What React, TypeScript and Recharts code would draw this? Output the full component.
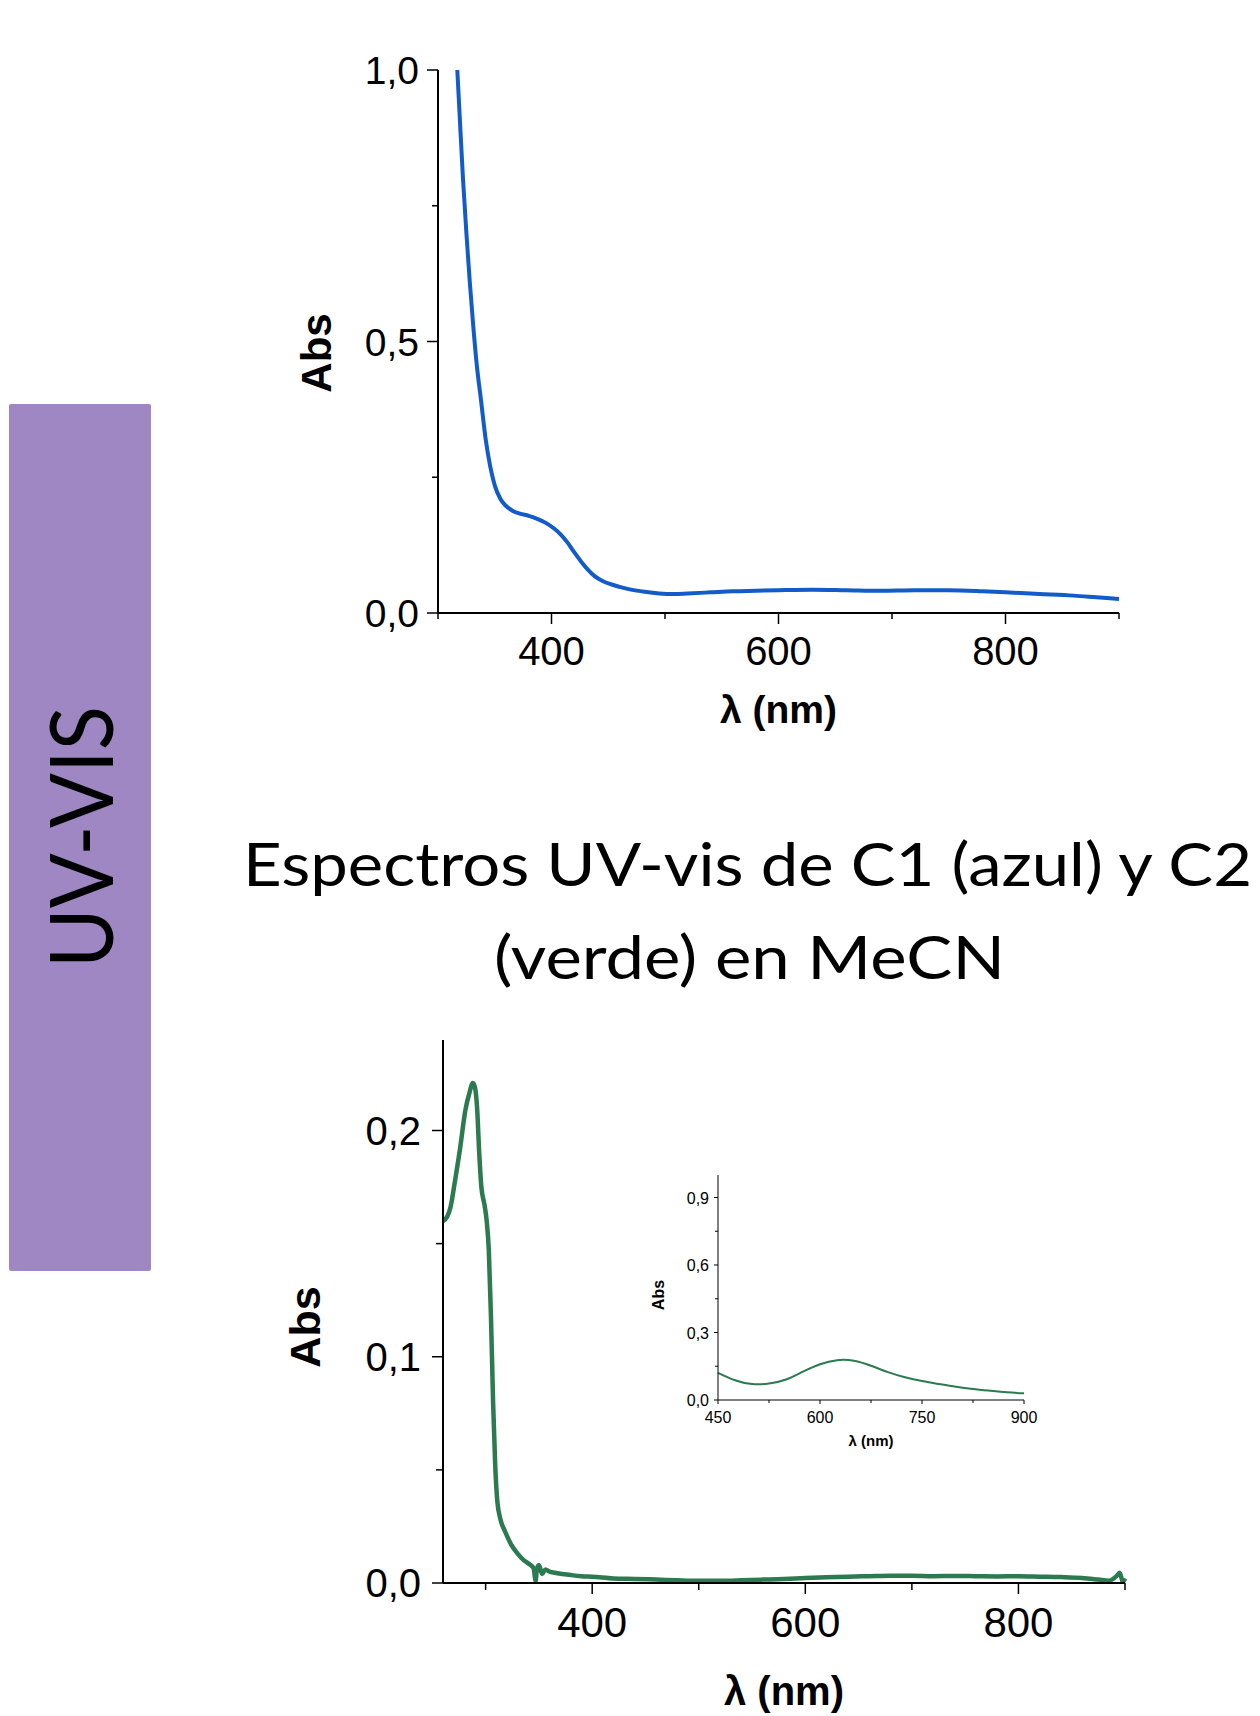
import React from 'react';
import { LineChart, Line, XAxis, YAxis } from 'recharts';

// C1 (azul) en MeCN
const c1Lambda = [317, 319, 322, 325, 328, 331, 334, 338, 342, 346, 350, 355, 360, 366, 372, 380, 388, 395, 402, 408, 414, 420, 426, 432, 438, 445, 452, 460, 470, 482, 495, 508, 520, 540, 560, 580, 600, 630, 660, 690, 720, 750, 780, 800, 830, 860, 880, 900];
const c1Abs = [1.0, 0.92, 0.8, 0.7, 0.61, 0.53, 0.46, 0.39, 0.32, 0.27, 0.235, 0.21, 0.197, 0.188, 0.183, 0.179, 0.173, 0.166, 0.156, 0.145, 0.13, 0.112, 0.095, 0.08, 0.068, 0.059, 0.053, 0.048, 0.043, 0.039, 0.036, 0.035, 0.036, 0.038, 0.04, 0.041, 0.042, 0.043, 0.042, 0.041, 0.042, 0.042, 0.04, 0.038, 0.035, 0.032, 0.029, 0.026];

// C2 (verde) en MeCN
const c2Lambda = [260, 264, 267, 271, 276, 281, 285, 288, 290, 292, 294, 296, 299, 301, 303, 305, 307, 309, 311, 314, 318, 324, 330, 336, 342, 345, 347, 348, 350, 353, 356, 360, 365, 372, 380, 390, 400, 420, 440, 460, 480, 500, 520, 540, 560, 580, 600, 620, 640, 660, 680, 700, 720, 740, 760, 780, 800, 820, 840, 860, 875, 885, 892, 895, 898, 900];
const c2Abs = [0.16, 0.162, 0.166, 0.177, 0.192, 0.209, 0.217, 0.221, 0.219, 0.21, 0.19, 0.175, 0.167, 0.16, 0.147, 0.118, 0.08, 0.052, 0.036, 0.028, 0.023, 0.017, 0.013, 0.01, 0.008, 0.0065, 0.001, 0.006, 0.008, 0.004, 0.006, 0.005, 0.0045, 0.004, 0.0035, 0.003, 0.0028, 0.002, 0.0018, 0.0015, 0.0012, 0.001, 0.001, 0.0012, 0.0015, 0.0018, 0.0022, 0.0025, 0.0028, 0.003, 0.0032, 0.0032, 0.003, 0.0031, 0.003, 0.0029, 0.003, 0.0028, 0.0026, 0.0022, 0.0015, 0.001, 0.003, 0.0045, 0.0005, 0.002];

// inset C2, visible region
const insetLambda = [450, 475, 500, 525, 550, 575, 600, 625, 650, 675, 700, 725, 750, 775, 800, 825, 850, 875, 900];
const insetAbs = [0.121, 0.088, 0.071, 0.073, 0.091, 0.126, 0.159, 0.177, 0.174, 0.152, 0.124, 0.101, 0.084, 0.071, 0.059, 0.049, 0.041, 0.034, 0.03];

const x1Ticks = [300, 400, 500, 600, 700, 800, 900];
const x1Major = [400, 600, 800];
const y1Ticks = [0, 0.25, 0.5, 0.75, 1.0];
const y1Major = [0, 0.5, 1.0];

const x2Ticks = [300, 400, 500, 600, 700, 800, 900];
const x2Major = [400, 600, 800];
const y2Ticks = [0, 0.05, 0.1, 0.15, 0.2];
const y2Major = [0, 0.1, 0.2];

const x3Ticks = [450, 525, 600, 675, 750, 825, 900];
const x3Major = [450, 600, 750, 900];
const y3Ticks = [0, 0.15, 0.3, 0.45, 0.6, 0.75, 0.9];
const y3Major = [0, 0.3, 0.6, 0.9];

const AXIS_FONT = '"Liberation Sans", Arial, sans-serif';
const TITLE_FONT = 'Lato, "Open Sans", sans-serif';

const c1Data = c1Lambda.map((l, i) => ({ l, a: c1Abs[i] }));
const c2Data = c2Lambda.map((l, i) => ({ l, a: c2Abs[i] }));
const insetData = insetLambda.map((l, i) => ({ l, a: insetAbs[i] }));

const comma = (v: number) => v.toFixed(1).replace('.', ',');

const xTick = (major: number[], fs: number, len: number, minorLen: number, gap: number, sw: number) => (p: any) => {
  const v = p.payload.value;
  const isMajor = major.includes(v);
  return (
    <g>
      <line x1={p.x} x2={p.x} y1={p.y} y2={p.y + (isMajor ? len : minorLen)} stroke="#000" strokeWidth={sw} />
      {isMajor && (
        <text x={p.x} y={p.y + gap} textAnchor="middle" fontSize={fs} fontFamily={AXIS_FONT} fill="#000">
          {v}
        </text>
      )}
    </g>
  );
};

const yTick = (major: number[], fs: number, len: number, minorLen: number, gap: number, base: number, sw: number) => (p: any) => {
  const v = p.payload.value;
  const isMajor = major.includes(v);
  return (
    <g>
      <line x1={p.x - (isMajor ? len : minorLen)} x2={p.x} y1={p.y} y2={p.y} stroke="#000" strokeWidth={sw} />
      {isMajor && (
        <text x={p.x - gap} y={p.y + base} textAnchor="end" fontSize={fs} fontFamily={AXIS_FONT} fill="#000">
          {comma(v)}
        </text>
      )}
    </g>
  );
};

const yTitle = (text: string, fs: number, shift: number) => (props: any) => {
  const { x, y, width, height } = props.viewBox;
  const cx = x + width / 2;
  const cy = y + height / 2 + shift;
  return (
    <text x={cx} y={cy} transform={`rotate(-90 ${cx} ${cy})`} textAnchor="middle" dominantBaseline="central"
      fontSize={fs} fontWeight="bold" fontFamily={AXIS_FONT} fill="#000">
      {text}
    </text>
  );
};

const xTitle = (text: string, fs: number, gap: number) => (props: any) => {
  const { x, y, width } = props.viewBox;
  return (
    <text x={x + width / 2} y={y + gap} textAnchor="middle" dominantBaseline="central"
      fontSize={fs} fontWeight="bold" fontFamily={AXIS_FONT} fill="#000">
      {text}
    </text>
  );
};

export default function App() {
  return (
    <div style={{ position: 'relative', width: 1260, height: 1716, overflow: 'hidden', background: '#fff' }}>
      <style>{'body{margin:0}'}</style>

      <svg width={1260} height={1716} style={{ position: 'absolute', left: 0, top: 0 }}>
        <rect x={9} y={404} width={142} height={867} rx={2} fill="#9e87c2" />
        <text x={113} y={837} transform="rotate(-90 113 837)" textAnchor="middle" fontSize={88}
          fontFamily={TITLE_FONT} fill="#000" textLength={262} lengthAdjust="spacingAndGlyphs">
          UV-VIS
        </text>
        <text x={243} y={886} fontSize={60} fontFamily={TITLE_FONT} fill="#000" textLength={1009} lengthAdjust="spacingAndGlyphs">
          Espectros UV-vis de C1 (azul) y C2
        </text>
        <text x={494} y={979} fontSize={60} fontFamily={TITLE_FONT} fill="#000" textLength={511} lengthAdjust="spacingAndGlyphs">
          (verde) en MeCN
        </text>
      </svg>

      {/* C1 */}
      <div style={{ position: 'absolute', left: 0, top: 0 }}>
        <LineChart width={1260} height={760} data={c1Data} margin={{ top: 70, right: 141, bottom: 27, left: 195 }}>
          <XAxis dataKey="l" type="number" domain={[300, 900]} ticks={x1Ticks} interval={0} height={120}
            axisLine={{ stroke: '#000', strokeWidth: 2 }} tickLine={false} tickSize={0} tickMargin={0}
            tick={xTick(x1Major, 40, 11, 6, 52, 1.5)} label={{ content: xTitle('λ (nm)', 39, 96) }} />
          <YAxis type="number" domain={[0, 1]} ticks={y1Ticks} interval={0} width={243} allowDataOverflow
            axisLine={{ stroke: '#000', strokeWidth: 2 }} tickLine={false} tickSize={0} tickMargin={0}
            tick={yTick(y1Major, 39, 11, 6, 19, 14, 1.5)} label={{ content: yTitle('Abs', 42, 11.5) }} />
          <Line type="monotone" dataKey="a" stroke="#125bc8" strokeWidth={4} dot={false} isAnimationActive={false} />
        </LineChart>
      </div>

      {/* C2 */}
      <div style={{ position: 'absolute', left: 0, top: 960 }}>
        <LineChart width={1260} height={756} data={c2Data} margin={{ top: 80, right: 135, bottom: 0, left: 167 }}>
          <XAxis dataKey="l" type="number" domain={[260, 900]} ticks={x2Ticks} interval={0} height={133}
            axisLine={{ stroke: '#000', strokeWidth: 2 }} tickLine={false} tickSize={0} tickMargin={0}
            tick={xTick(x2Major, 42, 11, 7, 54, 1.5)} label={{ content: xTitle('λ (nm)', 40, 108) }} />
          <YAxis type="number" domain={[0, 0.24]} ticks={y2Ticks} interval={0} width={276} allowDataOverflow
            axisLine={{ stroke: '#000', strokeWidth: 2 }} tickLine={false} tickSize={0} tickMargin={0}
            tick={yTick(y2Major, 40, 11, 7, 22, 14, 1.5)} label={{ content: yTitle('Abs', 43, 15.5) }} />
          <Line type="monotone" dataKey="a" stroke="#2b7a50" strokeWidth={4.5} dot={false} isAnimationActive={false} />
        </LineChart>
      </div>

      {/* inset */}
      <div style={{ position: 'absolute', left: 580, top: 1150 }}>
        <LineChart width={460} height={320} data={insetData} margin={{ top: 25, right: 16, bottom: 10, left: 18 }}>
          <XAxis dataKey="l" type="number" domain={[450, 900]} ticks={x3Ticks} interval={0} height={60}
            axisLine={{ stroke: '#000', strokeWidth: 1 }} tickLine={false} tickSize={0} tickMargin={0}
            tick={xTick(x3Major, 16, 4, 3, 23, 1)} label={{ content: xTitle('λ (nm)', 15, 40) }} />
          <YAxis type="number" domain={[0, 1]} ticks={y3Ticks} interval={0} width={120} allowDataOverflow
            axisLine={{ stroke: '#000', strokeWidth: 1 }} tickLine={false} tickSize={0} tickMargin={0}
            tick={yTick(y3Major, 16, 4, 3, 9, 6, 1)} label={{ content: yTitle('Abs', 16, 7.5) }} />
          <Line type="natural" dataKey="a" stroke="#2b7a50" strokeWidth={2} dot={false} isAnimationActive={false} />
        </LineChart>
      </div>
    </div>
  );
}
